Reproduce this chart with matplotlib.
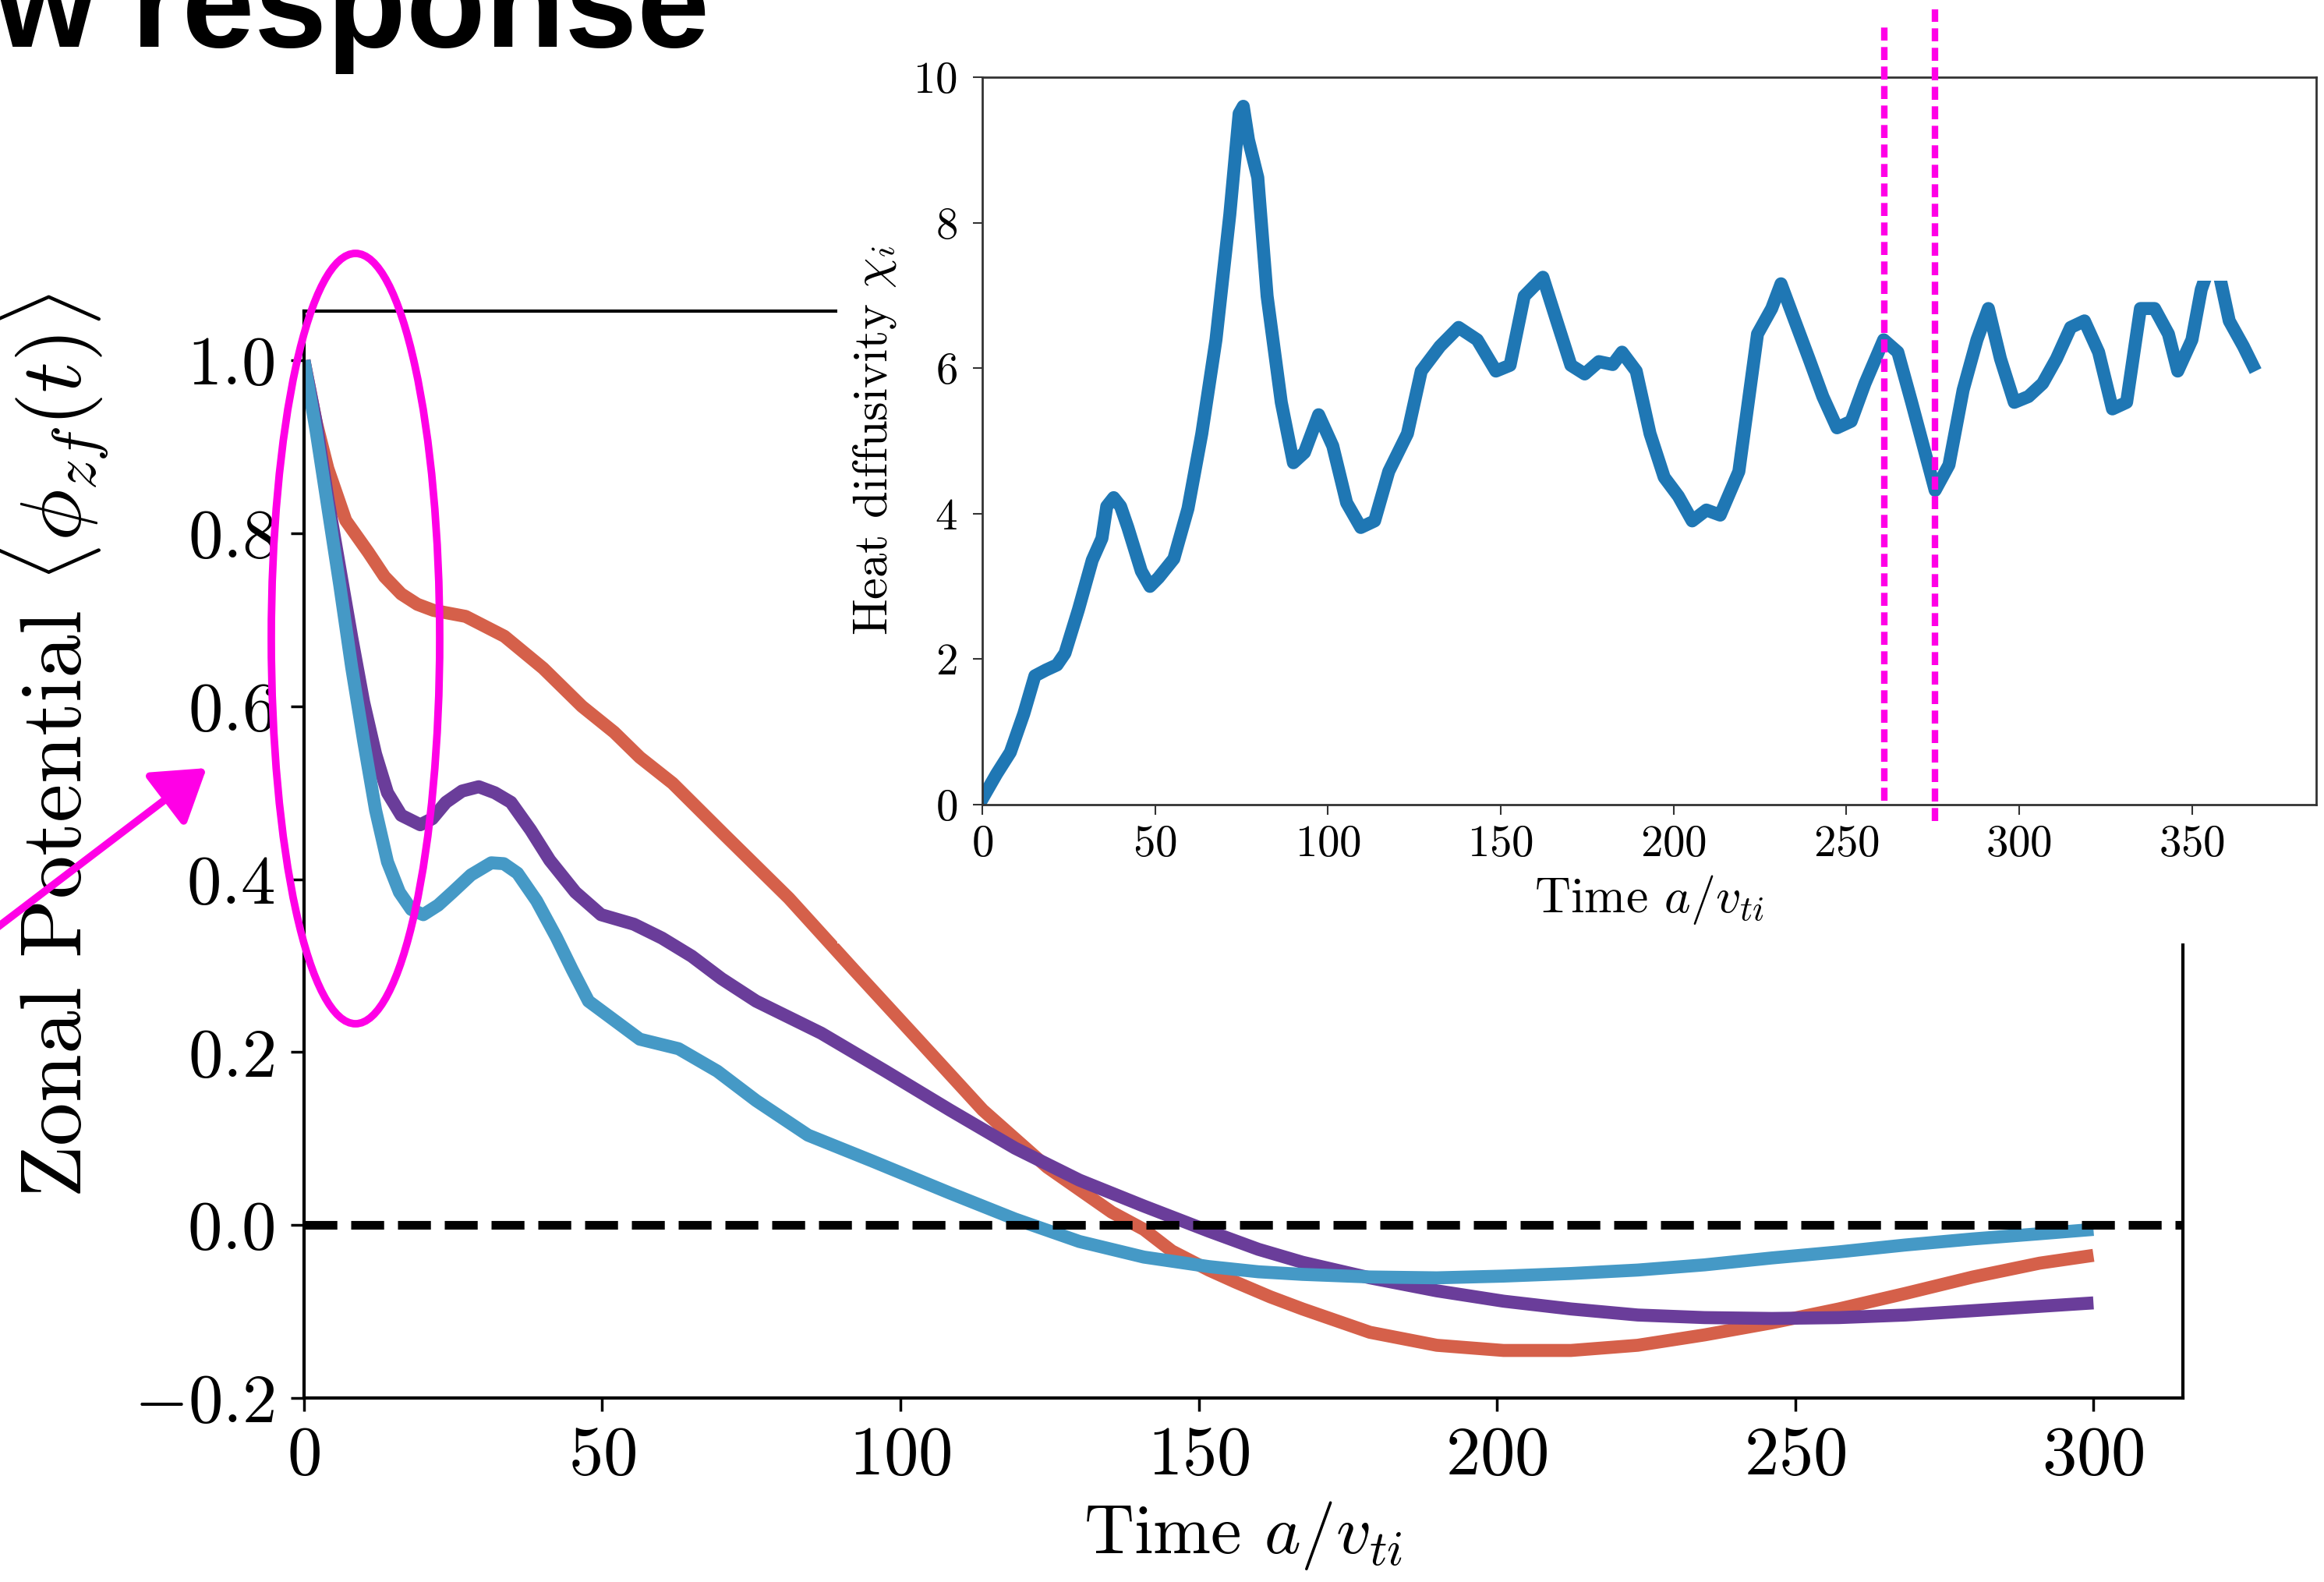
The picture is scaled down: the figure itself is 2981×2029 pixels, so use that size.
import numpy as np
import matplotlib
matplotlib.use("Agg")
import matplotlib.pyplot as plt
from matplotlib.patches import Ellipse, Rectangle, FancyArrowPatch
from matplotlib.lines import Line2D
from matplotlib import transforms

plt.rcParams['font.family'] = 'serif'
plt.rcParams['font.serif'] = ['cmr10']
plt.rcParams['mathtext.fontset'] = 'cm'
plt.rcParams['axes.formatter.use_mathtext'] = True

# zonal potential response, three runs
t_red = [0, 2, 4, 7, 10.8, 13.5, 16.3, 19, 21.7, 27.1, 33.6, 40.1, 46.6, 52, 56.3, 61.8,
         70.4, 81.3, 92.1, 102.9, 113.8, 124.6, 135.4, 140.8, 145.5, 151.7, 156.2, 162,
         167.4, 178.7, 189.9, 201.1, 212.4, 223.6, 234.8, 246.1, 257.3, 268.5, 279.8, 291, 300]
v_red = [1.0, 0.93, 0.875, 0.815, 0.778, 0.75, 0.73, 0.718, 0.711, 0.704, 0.681, 0.644,
         0.6, 0.57, 0.541, 0.511, 0.452, 0.378, 0.296, 0.215, 0.133, 0.067, 0.015, -0.005,
         -0.03, -0.052, -0.066, -0.083, -0.097, -0.124, -0.139, -0.145, -0.145, -0.139,
         -0.127, -0.113, -0.097, -0.079, -0.06, -0.044, -0.035]

t_purple = [0, 2, 4, 6, 8, 10, 12, 14, 16.3, 19.5, 21.5, 23.8, 26.5, 29.3, 32, 34.7, 38,
            41.2, 45.5, 49.8, 55.3, 60, 65, 70, 75.8, 86.7, 97.5, 108.3, 119.2, 130, 140.8,
            151.7, 160, 167.4, 178.7, 189.9, 201.1, 212.4, 223.6, 234.8, 246.1, 257.3,
            268.5, 279.8, 291, 300]
v_purple = [1.0, 0.93, 0.84, 0.76, 0.68, 0.605, 0.545, 0.5, 0.474, 0.463, 0.47, 0.489,
            0.502, 0.507, 0.5, 0.489, 0.457, 0.422, 0.385, 0.359, 0.348, 0.332, 0.311,
            0.285, 0.259, 0.222, 0.178, 0.133, 0.089, 0.052, 0.022, -0.007, -0.028,
            -0.043, -0.061, -0.076, -0.088, -0.097, -0.104, -0.107, -0.108, -0.107,
            -0.104, -0.099, -0.094, -0.09]

t_blue = [0, 2, 4, 6, 8, 10, 12, 14, 16, 18, 20, 22.5, 24.9, 28, 31.4, 33.5, 35.8, 39,
          42.3, 45, 47.7, 52, 56.3, 62.8, 69.3, 75.8, 84.5, 95.3, 108.3, 119.2, 130,
          140.8, 151.7, 160, 167.4, 178.7, 189.9, 201.1, 212.4, 223.6, 234.8, 246.1,
          257.3, 268.5, 279.8, 291, 300]
v_blue = [1.0, 0.92, 0.83, 0.74, 0.645, 0.56, 0.48, 0.42, 0.385, 0.365, 0.359, 0.37,
          0.385, 0.405, 0.419, 0.418, 0.407, 0.375, 0.333, 0.295, 0.259, 0.237, 0.215,
          0.204, 0.178, 0.144, 0.104, 0.074, 0.037, 0.007, -0.019, -0.037, -0.048,
          -0.054, -0.057, -0.06, -0.061, -0.059, -0.056, -0.052, -0.046, -0.038, -0.031,
          -0.023, -0.016, -0.01, -0.005]

# heat diffusivity (inset)
t_chi = [0, 4.1, 8.1, 12, 15.2, 18.4, 21.6, 23.9, 27.8, 31.8, 34.6, 36, 38, 40, 42.1, 46,
         48.5, 51, 55.4, 59.5, 63.5, 67.6, 71.6, 74.3, 75.5, 77, 79.7, 82.4, 86.5, 90, 93.2,
         97.3, 101.4, 105.4, 109.5, 113.5, 117.6, 123, 127, 132.4, 137.8, 143.2, 148.6,
         152.7, 156.8, 162.2, 166.2, 170.3, 174.3, 178.4, 182.4, 185.1, 189.2, 193.2,
         197.3, 201.4, 205.4, 209.5, 213.5, 218.9, 224.3, 228.4, 231.1, 235.1, 239.2,
         243.2, 247.3, 251.4, 255.4, 260.8, 264.9, 268.9, 275.7, 279.7, 283.8, 287.8,
         291.1, 294.6, 298.6, 302.7, 306.8, 310.8, 314.9, 318.9, 323, 327, 331.1, 335.1,
         339.2, 343.2, 345.9, 350, 352.7, 356.5, 360.8, 364.9, 367.6]
chi = [0.08, 0.42, 0.72, 1.25, 1.77, 1.85, 1.92, 2.08, 2.68, 3.36, 3.66, 4.1, 4.22, 4.1,
       3.81, 3.21, 3.0, 3.12, 3.38, 4.07, 5.1, 6.39, 8.11, 9.5, 9.6, 9.14, 8.62, 6.99, 5.53,
       4.7, 4.84, 5.36, 4.93, 4.15, 3.81, 3.9, 4.58, 5.1, 5.96, 6.3, 6.56, 6.39, 5.96, 6.04,
       6.99, 7.25, 6.65, 6.04, 5.92, 6.09, 6.05, 6.22, 5.96, 5.1, 4.5, 4.24, 3.9, 4.05,
       3.98, 4.58, 6.47, 6.82, 7.16, 6.65, 6.13, 5.61, 5.18, 5.27, 5.79, 6.39, 6.22, 5.53,
       4.32, 4.67, 5.7, 6.39, 6.82, 6.13, 5.53, 5.61, 5.79, 6.13, 6.56, 6.65, 6.22, 5.44,
       5.53, 6.82, 6.82, 6.47, 5.96, 6.39, 7.08, 7.6, 6.65, 6.3, 6.04]

marked_times = [261, 275.7]

magenta = '#ff00e6'

fig = plt.figure(figsize=(29.81, 20.29), dpi=100)

ax = fig.add_axes([0.1308, 0.1163, 0.8085, 0.687], zorder=1)
ax.plot(t_red, v_red, color='#d5604a', lw=12, solid_joinstyle='round', solid_capstyle='butt')
ax.plot(t_purple, v_purple, color='#6a3d9a', lw=12, solid_joinstyle='round', solid_capstyle='butt')
ax.plot(t_blue, v_blue, color='#4599c6', lw=12, solid_joinstyle='round', solid_capstyle='butt')
ax.axhline(0, color='k', lw=8, dashes=(3.8, 1.6))
ax.set_xlim(0, 315)
ax.set_ylim(-0.2, 1.057)
ax.set_xticks(np.arange(0, 301, 50))
ax.set_yticks([-0.2, 0.0, 0.2, 0.4, 0.6, 0.8, 1.0])
for s in ax.spines.values():
    s.set_linewidth(3)
ax.tick_params(axis='both', labelsize=64, length=12, width=2.5)
ax.tick_params(axis='y', pad=15)
ax.tick_params(axis='x', pad=14)
ax.set_xlabel(r"Time $a/v_{ti}$", fontsize=64)
ax.set_ylabel(r"Zonal Potential $\langle\phi_{zf}(t)\rangle$", fontsize=80)
ax.xaxis.set_label_coords(0.5, -0.093)
ax.yaxis.set_label_coords(-0.103, 0.60)

# white backing of the pasted inset
fig.add_artist(Rectangle((0.3603, 0.4037), 0.7, 0.7, transform=fig.transFigure,
                         facecolor='white', edgecolor='none', zorder=2))

ax_in = fig.add_axes([0.4227, 0.4914, 0.574, 0.4598], zorder=3)
ax_in.plot(t_chi, chi, color='#1f77b4', lw=12, solid_joinstyle='round')
ax_in.add_patch(Rectangle((344, 7.2), 40, 2.7, facecolor='white', edgecolor='none', zorder=5))
ax_in.set_xlim(0, 386)
ax_in.set_ylim(0, 10)
ax_in.set_xticks(np.arange(0, 351, 50))
ax_in.set_yticks(np.arange(0, 11, 2))
for s in ax_in.spines.values():
    s.set_linewidth(2)
    s.set_color('#333333')
ax_in.tick_params(axis='both', labelsize=41, length=9, width=1.5, color='#333333')
ax_in.tick_params(axis='y', pad=14)
ax_in.tick_params(axis='x', pad=10)
ax_in.set_xlabel(r"Time $a/v_{ti}$", fontsize=46)
ax_in.set_ylabel(r"Heat diffusivity $\chi_i$", fontsize=45)
ax_in.xaxis.set_label_coords(0.5, -0.094)
ax_in.yaxis.set_label_coords(-0.063, 0.5)

# dotted markers through the inset
tr = transforms.blended_transform_factory(ax_in.transData, fig.transFigure)
for tm, (y0, y1) in zip(marked_times, [(0.494, 0.986), (0.481, 0.994)]):
    fig.add_artist(Line2D([tm, tm], [y0, y1], transform=tr, color=magenta, lw=6,
                          dashes=(2.0, 1.0), zorder=6))

# hand-drawn annotations
fig.add_artist(Ellipse((456 / 2981, 1 - 819 / 2029), 216 / 2981, 988 / 2029,
                       transform=fig.transFigure, fill=False, edgecolor=magenta,
                       lw=7, zorder=6))
fig.add_artist(FancyArrowPatch((-0.0067, 0.4076), (0.0889, 0.5145), transform=fig.transFigure,
                               arrowstyle='-|>,head_length=4.0,head_width=2.6',
                               mutation_scale=10, color=magenta, lw=7,
                               shrinkA=0, shrinkB=0, zorder=6))

fig.text(910 / 2981, 1 - 60 / 2029, "w response", ha='right', va='baseline',
         fontsize=120, fontweight='bold', family=['Liberation Sans'])

fig.savefig("out.png", dpi=100)
